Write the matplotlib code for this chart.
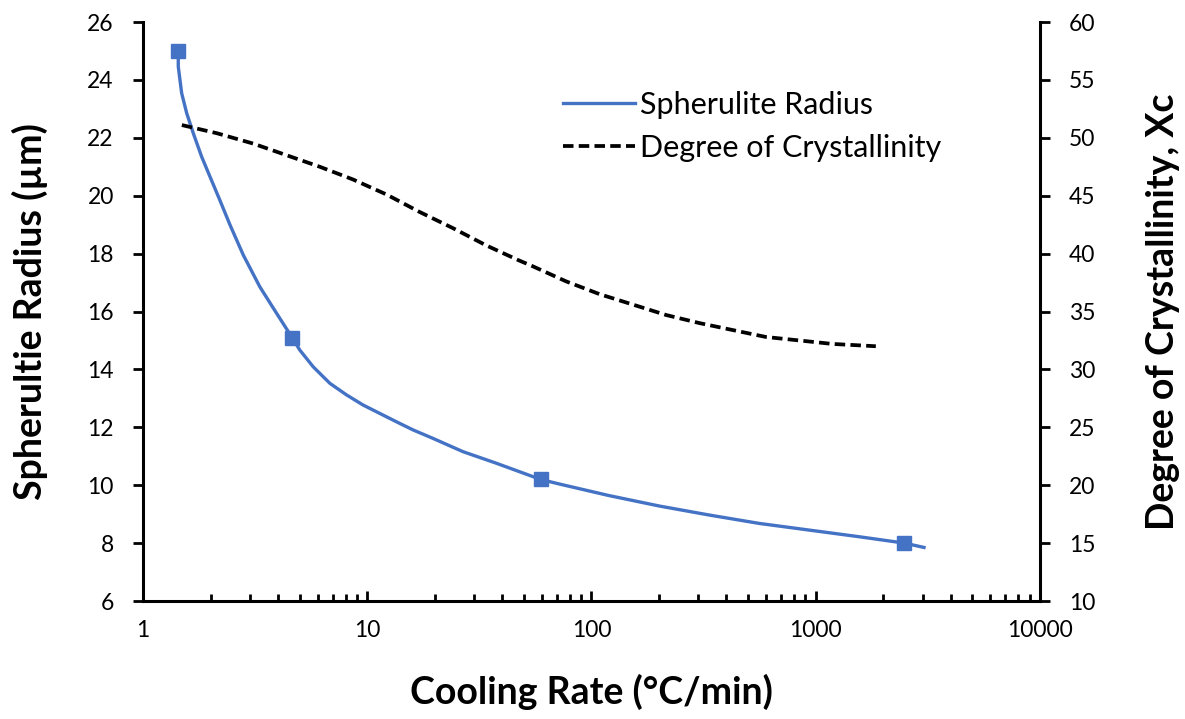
import matplotlib.pyplot as plt
from matplotlib.ticker import LogLocator, FixedLocator, NullFormatter

plt.rcParams['font.family'] = ['Lato', 'DejaVu Sans']

# spherulite radius curve (um) vs cooling rate (C/min)
radius_rate = [1.436, 1.436, 1.487, 1.566, 1.675, 1.825, 1.988, 2.20, 2.44, 2.80, 3.32, 3.94, 4.64,
               5.00, 5.74, 6.81, 8.08, 9.58, 11.37, 13.5, 16.0, 19.6, 26.7, 37.6, 59.3, 72,
               120, 201, 335, 560, 935, 1563, 2488, 3040]
radius_um = [25.0, 24.46, 23.54, 22.85, 22.16, 21.35, 20.66, 19.85, 19.0, 17.95, 16.85, 15.94, 15.08,
             14.67, 14.09, 13.52, 13.12, 12.77, 12.48, 12.19, 11.91, 11.62, 11.16, 10.76, 10.2, 10.04,
             9.64, 9.28, 8.97, 8.68, 8.45, 8.22, 8.0, 7.85]

# measured points (square markers)
meas_rate = [1.436, 4.64, 59.3, 2488]
meas_radius = [25.0, 15.08, 10.2, 8.0]

# degree of crystallinity curve (%)
xc_rate = [1.49, 2.13, 3.10, 4.36, 6.14, 8.64, 12.2, 17.1, 24.1, 34.0, 47.0, 54.8, 77.1,
           108.6, 152.8, 215, 303, 426, 600, 845, 1188, 1854]
xc_pct = [51.1, 50.4, 49.5, 48.5, 47.5, 46.4, 45.1, 43.6, 42.2, 40.7, 39.45, 38.9, 37.6,
          36.5, 35.6, 34.7, 34.0, 33.4, 32.8, 32.5, 32.2, 32.0]

blue = '#4472C4'

fig = plt.figure(figsize=(11.85, 7.19), dpi=100)
ax = fig.add_axes([0.1207, 0.1641, 0.7569, 0.8053])
ax2 = ax.twinx()

l1, = ax.plot(radius_rate, radius_um, color=blue, lw=2.4, label='Spherulite Radius')
ax.plot(meas_rate, meas_radius, ls='none', marker='s', ms=10, color=blue)
l2, = ax2.plot(xc_rate, xc_pct, color='black', lw=2.7, ls=(0, (2.8, 1.4)),
               label='Degree of Crystallinity')

ax.set_xscale('log')
ax.set_xlim(1, 10000)
ax.set_ylim(6, 26)
ax.set_yticks(range(6, 27, 2))
ax2.set_ylim(10, 60)
ax2.set_yticks(range(10, 61, 5))

ax.xaxis.set_major_locator(FixedLocator([1, 10, 100, 1000, 10000]))
ax.set_xticklabels(['1', '10', '100', '1000', '10000'])
ax.xaxis.set_minor_locator(LogLocator(base=10, subs=range(2, 10)))
ax.xaxis.set_minor_formatter(NullFormatter())

for a in (ax, ax2):
    a.spines['top'].set_visible(False)
    for s in ('left', 'right', 'bottom'):
        a.spines[s].set_linewidth(2.2)
ax.spines['right'].set_visible(False)
ax2.spines['left'].set_visible(False)
ax2.spines['bottom'].set_visible(False)

ax.tick_params(axis='y', direction='out', length=7, width=2, labelsize=16.5, pad=14)
ax2.tick_params(axis='y', direction='out', length=7, width=2, labelsize=16.5, pad=14)
ax.tick_params(axis='x', which='major', direction='in', length=7, width=2, labelsize=16.5, pad=14)
ax.tick_params(axis='x', which='minor', direction='in', length=5, width=2)

ax.set_xlabel('Cooling Rate (°C/min)', fontsize=27, fontweight='bold')
ax.set_ylabel('Spherultie Radius (µm)', fontsize=27, fontweight='bold')
ax2.set_ylabel('Degree of Crystallinity, Xc', fontsize=27, fontweight='bold')
ax.xaxis.set_label_coords(0.5, -0.125)
ax.yaxis.set_label_coords(-0.106, 0.5)
ax2.yaxis.set_label_coords(1.118, 0.5)

ax.legend(handles=[l1, l2], loc='center left', bbox_to_anchor=(0.438, 0.82), frameon=False,
          fontsize=22, handlelength=2.35, handletextpad=0.15, labelspacing=0.5)

fig.savefig('out.png', dpi=100)
